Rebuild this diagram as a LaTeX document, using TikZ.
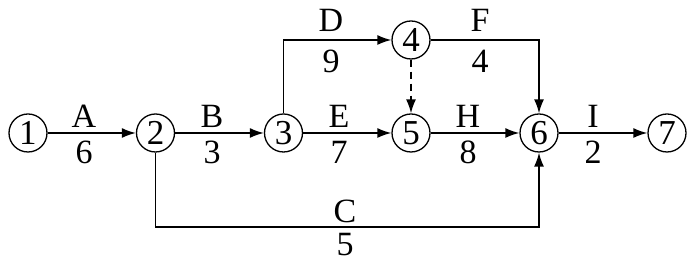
\documentclass[tikz,border=0pt]{standalone}
\usepackage{fontspec}
\setmainfont{Liberation Serif}
\usetikzlibrary{arrows.meta}
\begin{document}
\begin{tikzpicture}[x=1pt,y=1pt,
  ev/.style={draw,circle,line width=1.3pt,minimum size=38pt,inner sep=0pt,font=\fontsize{35pt}{35pt}\selectfont},
  act/.style={line width=1.5pt,-{Latex[length=14pt,width=10pt]}},
  lab/.style={font=\fontsize{34pt}{34pt}\selectfont,inner sep=0pt}]
\useasboundingbox (0,0) rectangle (694,264);
\node[ev] (n1) at (28,131) {1};
\node[ev] (n2) at (155.5,131) {2};
\node[ev] (n3) at (283.5,131) {3};
\node[ev] (n4) at (411,224) {4};
\node[ev] (n5) at (411,131) {5};
\node[ev] (n6) at (539,131) {6};
\node[ev] (n7) at (667,131) {7};
\coordinate (dc) at (283.5,224);
\coordinate (fc) at (539,224);
\coordinate (c1) at (155.5,37);
\coordinate (c2) at (539,37);
\draw[act] (n1) -- (n2);
\draw[act] (n2) -- (n3);
\draw[act] (n3) -- (n5);
\draw[act] (n5) -- (n6);
\draw[act] (n6) -- (n7);
\draw[act] (n3) -- (dc) -- (n4);
\draw[act] (n4) -- (fc) -- (n6);
\draw[act] (n2) -- (c1) -- (c2) -- (n6);
\draw[act,dashed,dash pattern=on 7pt off 5pt] (n4) -- (n5);
\node[lab] (la) at (84,148) {A};
\node[lab] (na) at (84,112) {6};
\node[lab] (lb) at (212,148) {B};
\node[lab] (nb) at (212,112) {3};
\node[lab] (le) at (339,148) {E};
\node[lab] (ne) at (339,112) {7};
\node[lab] (lh) at (468,148) {H};
\node[lab] (nh) at (468,112) {8};
\node[lab] (li) at (593,148) {I};
\node[lab] (ni) at (593,112) {2};
\node[lab] (ld) at (331,244) {D};
\node[lab] (nd) at (331,203) {9};
\node[lab] (lf) at (480,244) {F};
\node[lab] (nf) at (480,203) {4};
\node[lab] (lc) at (345,53) {C};
\node[lab] (nc) at (345,19) {5};
\end{tikzpicture}
\end{document}
